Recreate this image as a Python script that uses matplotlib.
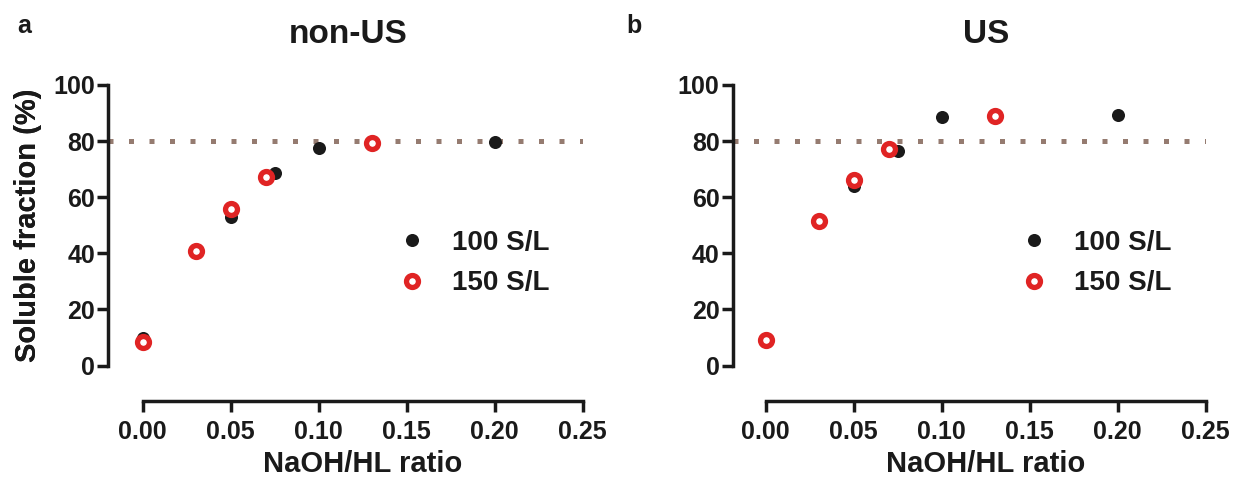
import matplotlib
matplotlib.use("Agg")
import matplotlib.pyplot as plt
import numpy as np

plt.rcParams['font.family'] = ['Liberation Sans', 'DejaVu Sans']
plt.rcParams['font.weight'] = 'bold'

# panel a: non-US
a_x100 = [0.0, 0.05, 0.075, 0.10, 0.20]
a_y100 = [9.8, 53.0, 68.5, 77.4, 79.6]
a_x150 = [0.0, 0.03, 0.05, 0.07, 0.13]
a_y150 = [8.5, 40.9, 55.7, 67.1, 79.4]

# panel b: US
b_x100 = [0.0, 0.05, 0.075, 0.10, 0.20]
b_y100 = [9.1, 64.0, 76.6, 88.5, 89.2]
b_x150 = [0.0, 0.03, 0.05, 0.07, 0.13]
b_y150 = [9.1, 51.5, 66.0, 77.1, 88.9]

titles = ["non-US", "US"]
panel_letters = ["a", "b"]
series_labels = ["100 S/L", "150 S/L"]
ref_level = 80
xticks = [0.00, 0.05, 0.10, 0.15, 0.20, 0.25]
yticks = [0, 20, 40, 60, 80, 100]

W, H = 1233, 478
fig = plt.figure(figsize=(W / 100, H / 100), dpi=100)

ink = '#1a1a1a'
red = '#e02424'
dotc = '#957b70'

# axes boxes in pixels: left spine x, right end (x=0.25), top (y=100), bottom spine y, x=0 pixel
boxes = [(108.3, 582.7, 85.0, 400.7, 142.7), (732.7, 1205.7, 85.0, 400.7, 765.7)]
title_x = [348.5, 985.7]
letter_x = [17, 626.7]
leg_x = [411.7, 1034.3]
data = [(a_x100, a_y100, a_x150, a_y150), (b_x100, b_y100, b_x150, b_y150)]

for i in range(2):
    l, r, t, b, x0 = boxes[i]
    ax = fig.add_axes([l / W, 1 - b / H, (r - l) / W, (b - t) / H])
    xlo = -(x0 - l) / (r - x0) * 0.25
    y0 = 365.5
    ylo = -(b - y0) / ((y0 - t) / 100)
    ax.set_xlim(xlo, 0.25)
    ax.set_ylim(ylo, 100)

    x1, y1, x2, y2 = data[i]
    ax.axhline(ref_level, color=dotc, lw=3.6, linestyle=(0, (1, 3.1)),
               dash_capstyle='butt', zorder=1)
    ax.plot(x1, y1, 'o', color=ink, ms=9.4, mew=0, label=series_labels[0], zorder=3, clip_on=False)
    ax.plot(x2, y2, 'o', mfc='white', mec=red, ms=8.6, mew=3.8, label=series_labels[1], zorder=4, clip_on=False)

    for s in ['top', 'right']:
        ax.spines[s].set_visible(False)
    for s in ['left', 'bottom']:
        ax.spines[s].set_linewidth(2.5)
        ax.spines[s].set_color(ink)
    ax.spines['left'].set_bounds(0, 100)
    ax.spines['bottom'].set_bounds(0, 0.25)
    ax.set_xticks(xticks)
    ax.set_xticklabels(['%.2f' % v for v in xticks])
    ax.set_yticks(yticks)
    ax.tick_params(axis='both', length=8, width=2.5, color=ink, labelcolor=ink, labelsize=18)
    ax.tick_params(axis='y', pad=1.5)
    ax.tick_params(axis='x', pad=6)
    for lab in ax.get_xticklabels() + ax.get_yticklabels():
        lab.set_fontweight('bold')

    ax.set_ylabel("Soluble fraction (%)", fontsize=21, fontweight='bold', color=ink)
    ax.yaxis.set_label_coords((42 - l) / (r - l), (b - 225.3) / (b - t))
    ax.set_xlabel("NaOH/HL ratio", fontsize=21, fontweight='bold', color=ink)
    ax.xaxis.label.set_va('baseline')
    ax.xaxis.set_label_coords(((x0 + r) / 2 - l) / (r - l), (b - 472.5) / (b - t))

    fig.text(title_x[i] / W, 1 - 43.3 / H, titles[i], fontsize=24, fontweight='bold',
             color=ink, ha='center', va='baseline')
    fig.text(letter_x[i] / W, 1 - 33.3 / H, panel_letters[i], fontsize=18, fontweight='bold',
             color=ink, ha='left', va='baseline')

    fs = 20
    hl = 0.8
    leg = ax.legend(loc='center left', frameon=False, fontsize=fs, handlelength=hl,
                    handletextpad=1.04, labelspacing=0.53, borderpad=0, borderaxespad=0,
                    numpoints=1,
                    bbox_to_anchor=((leg_x[i] - hl / 2 * fs * 100 / 72) / W, 1 - 263 / H),
                    bbox_transform=fig.transFigure)
    for txt in leg.get_texts():
        txt.set_color(ink)
        txt.set_fontweight('bold')

fig.savefig("out.png", dpi=100)
